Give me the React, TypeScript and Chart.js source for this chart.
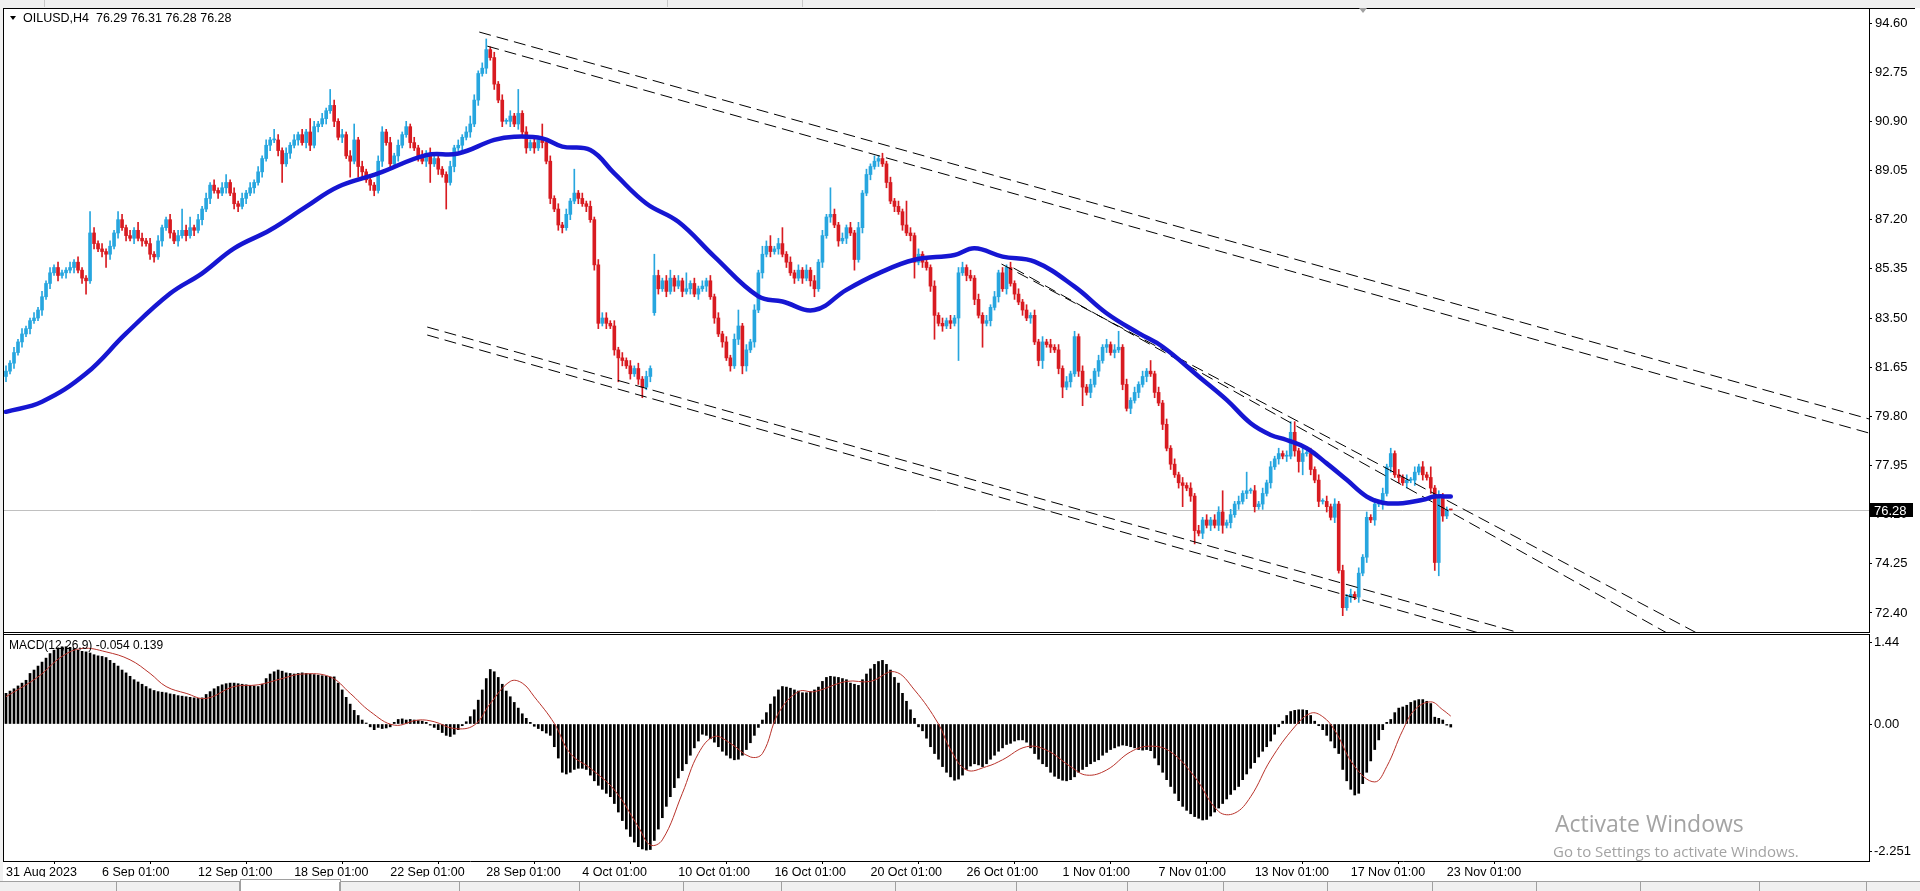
import React, { useEffect, useRef } from "react";
import { Chart, registerables } from "chart.js";

Chart.register(...registerables);

// ---------------- DATA ----------------
const SYMBOL_HEADER = "OILUSD,H4  76.29 76.31 76.28 76.28";
const MACD_HEADER = "MACD(12,26,9) -0.054 0.139";
const LAST_PRICE = 76.28;

const CLOSE: number[] = [
  81.5, 81.8, 82.2, 82.6, 82.9, 83.1, 83.4, 83.5, 83.8, 84.3,
  84.8, 85.2, 85.4, 85.1, 85.2, 85.3, 85.4, 85.6, 85.3, 85.0,
  84.9, 86.7, 86.3, 86.1, 86.0, 85.9, 86.2, 86.7, 87.2, 86.9,
  86.6, 86.5, 86.8, 86.5, 86.4, 86.3, 85.9, 85.8, 86.4, 86.9,
  87.2, 86.7, 86.4, 86.6, 86.8, 86.6, 86.9, 86.8, 87.2, 87.6,
  88.0, 88.5, 88.3, 88.2, 88.4, 88.6, 88.2, 87.8, 87.7, 88.0,
  88.2, 88.4, 88.6, 89.0, 89.5, 90.0, 90.2, 90.2, 89.8, 89.3,
  89.7, 90.0, 90.2, 90.4, 90.1, 90.5, 90.0, 90.7, 90.8, 91.0,
  91.3, 91.5, 90.9, 90.3, 90.4, 89.6, 89.4, 90.2, 89.2, 89.0,
  88.7, 88.5, 88.3, 89.4, 90.5, 90.1, 89.3, 89.6, 90.0, 90.4,
  90.7, 90.1, 89.9, 89.6, 89.4, 89.7, 89.3, 89.5, 89.1, 88.9,
  88.6, 89.2, 89.9, 90.0, 90.3, 90.5, 90.8, 91.7, 92.7, 92.9,
  93.6, 93.3, 92.3, 91.7, 90.9, 90.9, 91.1, 90.8, 91.2, 90.5,
  89.9, 90.1, 89.9, 90.2, 90.1, 89.4, 88.0, 87.6, 87.0, 86.9,
  87.4, 87.9, 88.2, 88.0, 87.8, 87.7, 87.2, 85.5, 83.3, 83.5,
  83.3, 83.2, 82.3, 82.0, 81.9, 81.7, 81.4, 81.6, 81.2, 80.9,
  81.3, 81.6, 85.1, 84.6, 84.9, 84.5, 85.0, 84.7, 84.9, 84.5,
  84.6, 84.8, 84.4, 84.6, 84.7, 84.9, 84.3, 83.5, 82.9, 82.6,
  82.0, 81.7, 82.7, 83.2, 81.7, 82.3, 82.6, 83.8, 85.2, 85.9,
  86.2, 86.0, 86.1, 86.3, 85.9, 85.6, 85.2, 85.0, 85.3, 85.0,
  85.3, 84.9, 84.6, 85.6, 86.6, 87.3, 87.4, 87.0, 86.4, 86.5,
  86.9, 86.7, 85.7, 86.9, 88.2, 88.9, 89.2, 89.4, 89.5, 89.3,
  88.6, 87.9, 87.7, 87.5, 87.0, 86.7, 86.6, 85.6, 85.9, 85.6,
  85.4, 84.7, 83.6, 83.3, 83.2, 83.4, 83.3, 83.5, 85.2, 85.4,
  85.1, 85.0, 84.2, 83.6, 83.3, 83.4, 83.9, 84.3, 85.2, 84.6,
  85.4, 84.8, 84.4, 84.1, 83.8, 83.5, 83.6, 82.6, 81.9, 82.6,
  82.5, 82.4, 82.3, 81.6, 80.9, 81.1, 81.4, 82.8, 81.5, 80.9,
  80.7, 81.0, 81.5, 81.9, 82.4, 82.5, 82.2, 82.3, 82.4, 81.0,
  80.1, 80.4, 80.7, 81.0, 81.3, 81.5, 81.4, 80.7, 80.3, 79.5,
  78.6, 78.0, 77.6, 77.3, 77.2, 77.1, 76.8, 75.5, 75.4, 75.9,
  75.7, 75.9, 75.7, 76.2, 75.7, 75.8, 76.1, 76.5, 76.6, 76.9,
  77.0, 77.0, 76.4, 76.5, 76.9, 77.3, 77.9, 78.2, 78.4, 78.3,
  78.3, 79.2, 78.5, 78.1, 78.4, 78.4, 77.8, 77.4, 76.6, 76.6,
  76.4, 76.0, 76.5, 74.0, 72.6, 73.0, 73.1, 73.0, 73.9, 74.5,
  76.0, 75.9, 76.5, 76.5, 76.9, 77.9, 78.4, 77.6, 77.5, 77.3,
  77.4, 77.4, 77.7, 77.9, 77.6, 77.5, 77.1, 74.3, 76.8, 76.05,
  76.29, 76.28,
];

// wick lengths above / below the body, in tenths of a dollar
const UP_WICK_TENTHS: number[] = [
  2,1,2,1,2,1,1,2,1,2, 1,2,1,2,1,1,2,1,2,1, 1,8,2,1,2,1,2,1,3,2, 1,2,1,3,2,1,2,1,2,1,
  1,2,1,2,8,2,4,1,2,1, 2,1,2,1,2,3,1,2,1,2, 1,2,1,2,1,2,1,4,2,1, 2,1,2,1,2,1,5,2,1,2,
  1,6,2,1,2,1,2,6,1,2, 1,2,1,2,2,1,2,1,2,1, 2,1,2,1,2,1,2,1,2,1, 1,2,1,2,1,2,3,2,1,2,
  4,1,2,1,2,1,2,1,9,1, 2,1,2,1,6,1,2,1,2,1, 2,1,9,1,2,1,2,1,2,2, 2,1,2,1,2,1,2,1,2,1,
  2,1,8,2,1,2,3,1,2,1, 6,1,2,1,2,1,2,1,2,1, 2,1,2,6,1,2,1,2,1,3, 2,4,1,2,6,1,2,1,2,1,
  2,1,2,1,2,1,10,2,1,2, 1,2,1,2,1,2,1,2,1,2, 1,2,1,2,1,9,2,1,2,1, 2,1,2,1,2,1,2,1,2,2,
  1,2,1,2,1,2,1,2,1,2, 1,2,1,2,1,2,1,2,1,2, 1,2,1,2,1,2,1,2,1,2, 1,2,1,2,1,2,1,2,6,1,
  2,1,2,1,2,1,4,1,2,1, 2,1,2,1,2,1,2,1,2,1, 2,1,2,2,8,1,2,1,2,1, 7,1,2,1,2,1,2,1,2,1,
  2,4,4,1,2,1,2,1,2,1, 2,1,2,1,2,1,2,1,2,1, 2,1,2,1,2,1,2,1,2,1, 2,1,2,1,2,1,4,1,2,1,
  1,0,
];
const DOWN_WICK_TENTHS: number[] = [
  2,1,2,1,2,1,2,1,1,2, 1,2,1,2,1,2,1,2,1,2, 5,1,2,1,2,5,2,1,2,1, 2,1,2,1,2,1,2,2,1,2,
  1,2,1,2,1,2,1,2,1,2, 1,2,1,2,1,2,1,2,2,1, 2,1,2,1,2,1,2,1,2,7, 1,2,1,2,1,2,2,1,2,1,
  2,1,2,1,2,1,6,1,4,2, 1,2,2,1,2,1,2,1,2,1, 1,2,1,2,1,2,7,1,2,1, 10,1,2,1,2,1,2,1,2,1,
  2,1,2,1,2,1,2,1,2,1, 2,1,2,1,2,1,2,1,2,2, 1,2,1,2,1,2,1,2,2,1, 2,1,2,9,2,1,2,1,2,4,
  1,2,1,2,1,2,1,2,1,2, 1,2,1,2,1,2,1,2,1,2, 1,2,1,2,3,2,1,2,1,2, 1,2,1,2,1,2,1,2,1,2,
  1,2,3,1,2,1,2,1,2,1, 2,1,4,1,2,1,2,1,2,1, 2,1,2,1,2,1,2,6,1,2, 1,2,9,1,2,1,2,1,16,1,
  2,1,2,1,9,1,2,1,2,1, 2,1,2,1,2,1,2,1,2,3, 1,2,1,2,4,1,2,1,2,7, 1,2,1,2,1,2,1,2,1,2,
  1,2,1,2,1,2,1,2,1,2, 1,2,1,2,8,1,2,5,1,2, 1,2,1,2,3,1,2,1,2,1, 2,1,2,1,2,1,2,1,2,1,
  2,1,2,4,5,1,2,1,2,1, 2,1,2,1,3,1,2,1,2,1, 2,1,2,1,2,1,2,1,2,1, 2,1,2,1,2,1,2,3,5,2,
  1,0,
];
// bars whose open is not the previous close (first bar, Monday gap)
const OPEN_OVERRIDE_INDEX = [0, 162];
const OPEN_OVERRIDE_VALUE = [81.3, 83.7];

// blue moving average
const MA_INDEX = [0, 9, 20, 30, 41, 49, 57, 66, 75, 83, 93, 105, 113, 122, 127, 134, 139, 146, 152, 160,
  168, 177, 188, 194, 202, 210, 218, 227, 237, 242, 249, 257, 267, 275, 283, 289, 298, 305, 311, 316,
  320, 325, 330, 335, 340, 344, 349, 354, 357, 361];
const MA_VALUE = [79.97, 80.35, 81.41, 82.92, 84.42, 85.18, 86.12, 86.81, 87.69, 88.44, 88.94, 89.63, 89.69, 90.2, 90.32, 90.26, 89.95, 89.82, 88.94, 87.81,
  87.12, 85.81, 84.31, 84.12, 83.8, 84.56, 85.18, 85.69, 85.87, 86.12, 85.81, 85.62, 84.68, 83.68, 82.93, 82.42, 81.3, 80.42, 79.54, 79.1,
  78.91, 78.6, 78.03, 77.41, 76.78, 76.55, 76.53, 76.66, 76.78, 76.78];

// dashed trend lines (bar index, price)
const TREND_START_INDEX = [118.25, 120.25, 105.25, 105.25, 248.75, 251.75];
const TREND_START_PRICE = [94.26, 93.73, 83.16, 82.86, 85.53, 85.38];
const TREND_END_INDEX = [466, 466, 466, 466, 466, 466];
const TREND_END_PRICE = [79.68, 79.15, 67.95, 67.47, 68.17, 67.36];

// MACD main (histogram) per bar
const MACD_HIST: number[] = [
  0.54, 0.58, 0.62, 0.67, 0.72, 0.77, 0.89, 0.95, 1.02, 1.09,
  1.16, 1.24, 1.30, 1.34, 1.36, 1.36, 1.35, 1.33, 1.30, 1.28,
  1.27, 1.25, 1.22, 1.20, 1.19, 1.17, 1.12, 1.07, 1.02, 0.95,
  0.90, 0.84, 0.78, 0.74, 0.70, 0.66, 0.62, 0.59, 0.57, 0.56,
  0.55, 0.53, 0.52, 0.50, 0.49, 0.48, 0.47, 0.46, 0.45, 0.46,
  0.52, 0.57, 0.62, 0.66, 0.69, 0.71, 0.72, 0.72, 0.71, 0.70,
  0.69, 0.68, 0.67, 0.66, 0.70, 0.80, 0.88, 0.92, 0.95, 0.93,
  0.90, 0.89, 0.88, 0.89, 0.90, 0.89, 0.88, 0.87, 0.86, 0.85,
  0.84, 0.83, 0.83, 0.72, 0.60, 0.47, 0.35, 0.24, 0.15, 0.07,
  0.01, -0.05, -0.10, -0.06, -0.08, -0.07, -0.05, 0.03, 0.08, 0.09,
  0.07, 0.08, 0.07, 0.06, 0.05, 0.03, -0.02, -0.06, -0.10, -0.15,
  -0.20, -0.22, -0.18, -0.10, -0.03, 0.04, 0.13, 0.25, 0.42, 0.60,
  0.80, 0.96, 0.92, 0.82, 0.70, 0.58, 0.48, 0.38, 0.28, 0.18,
  0.10, 0.03, -0.04, -0.08, -0.12, -0.16, -0.20, -0.40, -0.60, -0.85,
  -0.88, -0.85, -0.80, -0.78, -0.78, -0.80, -0.90, -1.00, -1.08, -1.15,
  -1.22, -1.28, -1.40, -1.55, -1.70, -1.85, -1.98, -2.08, -2.16, -2.20,
  -2.22, -2.21, -2.05, -1.85, -1.65, -1.45, -1.28, -1.12, -0.95, -0.82,
  -0.70, -0.55, -0.42, -0.30, -0.18, -0.20, -0.26, -0.32, -0.40, -0.48,
  -0.55, -0.60, -0.63, -0.62, -0.55, -0.45, -0.33, -0.20, -0.06, 0.07,
  0.20, 0.35, 0.48, 0.60, 0.66, 0.65, 0.63, 0.60, 0.58, 0.55,
  0.55, 0.57, 0.60, 0.65, 0.75, 0.82, 0.84, 0.83, 0.82, 0.80,
  0.78, 0.72, 0.70, 0.68, 0.78, 0.88, 0.97, 1.05, 1.10, 1.12,
  1.05, 0.95, 0.82, 0.72, 0.54, 0.40, 0.25, 0.10, -0.05, -0.12,
  -0.25, -0.40, -0.52, -0.62, -0.75, -0.85, -0.93, -0.99, -0.97, -0.90,
  -0.80, -0.74, -0.70, -0.72, -0.75, -0.70, -0.62, -0.55, -0.48, -0.42,
  -0.36, -0.34, -0.30, -0.28, -0.28, -0.32, -0.42, -0.52, -0.62, -0.70,
  -0.75, -0.85, -0.92, -0.96, -0.99, -1.00, -0.98, -0.93, -0.85, -0.80,
  -0.75, -0.70, -0.66, -0.63, -0.55, -0.50, -0.45, -0.42, -0.39, -0.37,
  -0.38, -0.40, -0.42, -0.45, -0.46, -0.45, -0.47, -0.60, -0.72, -0.85,
  -0.98, -1.10, -1.22, -1.35, -1.45, -1.52, -1.58, -1.63, -1.66, -1.69,
  -1.68, -1.62, -1.55, -1.48, -1.40, -1.32, -1.24, -1.16, -1.10, -0.98,
  -0.88, -0.78, -0.68, -0.58, -0.48, -0.40, -0.30, -0.18, -0.05, 0.05,
  0.15, 0.22, 0.24, 0.25, 0.25, 0.24, 0.15, 0.05, -0.03, -0.10,
  -0.20, -0.30, -0.42, -0.52, -0.80, -1.00, -1.15, -1.25, -1.22, -1.05,
  -0.85, -0.65, -0.45, -0.28, -0.10, 0.03, 0.08, 0.20, 0.28, 0.30,
  0.33, 0.38, 0.41, 0.43, 0.43, 0.40, 0.36, 0.12, 0.10, 0.07,
  -0.02, -0.054,
];

// MACD signal line
const SIGNAL_INDEX = [0, 8, 14, 19, 25, 31, 36, 40, 45, 50, 57, 63, 69, 74, 81, 86, 91, 97, 103, 107,
  112, 117, 121, 126, 129, 132, 137, 141, 146, 152, 158, 161, 164, 169, 173, 177, 181, 186, 189, 193,
  198, 202, 210, 216, 222, 227, 233, 236, 240, 245, 249, 255, 260, 266, 270, 275, 281, 286, 291, 297,
  303, 307, 311, 316, 322, 326, 329, 332, 337, 342, 345, 349, 352, 356, 359, 361];
const SIGNAL_VALUE = [0.48, 0.83, 1.19, 1.33, 1.27, 1.13, 0.89, 0.66, 0.54, 0.45, 0.66, 0.69, 0.8, 0.88, 0.83, 0.54, 0.22, -0.02, 0.07, 0.04,
  -0.08, -0.02, 0.36, 0.75, 0.72, 0.48, 0.01, -0.52, -0.78, -1.16, -1.81, -2.13, -2.04, -1.22, -0.52, -0.22, -0.34, -0.58, -0.52, 0.19,
  0.57, 0.57, 0.75, 0.75, 0.92, 0.6, 0.0, -0.45, -0.81, -0.75, -0.63, -0.4, -0.46, -0.75, -0.9, -0.81, -0.49, -0.39, -0.49, -0.93,
  -1.54, -1.57, -1.28, -0.63, -0.05, 0.19, 0.13, -0.11, -0.75, -1.02, -0.75, -0.11, 0.25, 0.39, 0.25, 0.139];

const PRICE_TICKS = [72.4, 74.25, 76.1, 77.95, 79.8, 81.65, 83.5, 85.35, 87.2, 89.05, 90.9, 92.75, 94.6];
const MACD_TICKS = [-2.251, 0, 1.44];
const MACD_TICK_LABELS = ["-2.251", "0.00", "1.44"];
const TIME_TICK_INDEX = [0, 24, 48, 72, 96, 120, 144, 168, 192, 216, 240, 264, 288, 312, 336, 360];
const TIME_LABELS = ["31 Aug 2023", "6 Sep 01:00", "12 Sep 01:00", "18 Sep 01:00", "22 Sep 01:00", "28 Sep 01:00",
  "4 Oct 01:00", "10 Oct 01:00", "16 Oct 01:00", "20 Oct 01:00", "26 Oct 01:00", "1 Nov 01:00", "7 Nov 01:00",
  "13 Nov 01:00", "17 Nov 01:00", "23 Nov 01:00"];

// ---------------- STYLE / LAYOUT ----------------
const X_MIN = -0.5;
const X_MAX = 465.5;
const PRICE_MIN = 71.685;
const PRICE_MAX = 95.127;
const MACD_MIN = -2.412;
const MACD_MAX = 1.567;
const BULL = "#27a6df";
const BEAR = "#d81b21";
const FONT = '"Liberation Sans", Arial, sans-serif';
const TAB_SEPARATORS = [116, 239, 339, 459, 579, 683, 781, 895, 1016, 1127, 1223, 1327, 1432, 1536, 1640, 1759, 1866];

Chart.defaults.font.family = FONT;
Chart.defaults.font.size = 12;
Chart.defaults.color = "#000";

const fixVertical = (s: any) => {
  s.width = 51;
  s.paddingTop = 0;
  s.paddingBottom = 0;
};
const fixHorizontal = (s: any) => {
  s.height = 16;
  s.paddingLeft = 0;
  s.paddingRight = 0;
};

export default function App() {
  const mainRef = useRef<HTMLCanvasElement | null>(null);
  const macdRef = useRef<HTMLCanvasElement | null>(null);

  useEffect(() => {
    const n = CLOSE.length;
    const open = CLOSE.map((c, i) => {
      const k = OPEN_OVERRIDE_INDEX.indexOf(i);
      return k >= 0 ? OPEN_OVERRIDE_VALUE[k] : CLOSE[i - 1];
    });
    const high = CLOSE.map((c, i) => Math.max(open[i], c) + (UP_WICK_TENTHS[i] || 0) / 10);
    const low = CLOSE.map((c, i) => Math.min(open[i], c) - (DOWN_WICK_TENTHS[i] || 0) / 10);
    const colors = CLOSE.map((c, i) => (c >= open[i] ? BULL : BEAR));

    const trendSets = TREND_START_INDEX.map((s, k) => ({
      type: "line" as const,
      data: [
        { x: s, y: TREND_START_PRICE[k] },
        { x: TREND_END_INDEX[k], y: TREND_END_PRICE[k] },
      ],
      borderColor: "#000",
      borderWidth: 1,
      borderDash: [12, 6],
      pointRadius: 0,
      order: 1,
    }));

    const mainPlugin = {
      id: "mainDecor",
      beforeDatasetsDraw(chart: any) {
        const { ctx, chartArea: a, scales } = chart;
        const py = Math.round(scales.y.getPixelForValue(LAST_PRICE)) + 0.5;
        ctx.save();
        ctx.strokeStyle = "#c0c0c0";
        ctx.lineWidth = 1;
        ctx.beginPath();
        ctx.moveTo(a.left, py);
        ctx.lineTo(a.right, py);
        ctx.stroke();
        ctx.restore();
      },
      afterDraw(chart: any) {
        const { ctx, chartArea: a, scales } = chart;
        ctx.save();
        ctx.fillStyle = "#000";
        ctx.beginPath();
        ctx.moveTo(10, 8);
        ctx.lineTo(16, 8);
        ctx.lineTo(13, 12);
        ctx.closePath();
        ctx.fill();
        ctx.font = `12.5px ${FONT}`;
        ctx.textBaseline = "alphabetic";
        ctx.textAlign = "left";
        ctx.fillText(SYMBOL_HEADER, 23, 14);
        const py = Math.round(scales.y.getPixelForValue(LAST_PRICE));
        ctx.fillStyle = "#000";
        ctx.fillRect(a.right + 1, py - 7, 43, 14);
        ctx.fillStyle = "#fff";
        ctx.font = `13px ${FONT}`;
        ctx.textBaseline = "middle";
        ctx.fillText(LAST_PRICE.toFixed(2), a.right + 5, py + 1);
        ctx.restore();
      },
    };

    const mainChart = new Chart(mainRef.current as HTMLCanvasElement, {
      type: "bar",
      data: {
        datasets: [
          {
            type: "line",
            data: MA_INDEX.map((x, k) => ({ x, y: MA_VALUE[k] })),
            borderColor: "#1616d2",
            borderWidth: 4.5,
            pointRadius: 0,
            tension: 0.4,
            borderCapStyle: "round",
            borderJoinStyle: "round",
            order: 0,
          } as any,
          ...(trendSets as any[]),
          {
            type: "bar",
            data: CLOSE.map((c, i) => ({ x: i, y: [open[i], c] })),
            backgroundColor: colors,
            barThickness: 3,
            grouped: false,
            minBarLength: 1,
            borderWidth: 0,
            order: 2,
          } as any,
          {
            type: "bar",
            data: CLOSE.map((c, i) => ({ x: i, y: [low[i], high[i]] })),
            backgroundColor: colors,
            barThickness: 1,
            grouped: false,
            borderWidth: 0,
            order: 3,
          } as any,
        ],
      },
      options: {
        responsive: false,
        animation: false,
        devicePixelRatio: 1,
        events: [],
        layout: { padding: { left: 4, top: 1, bottom: 2, right: 0 } },
        plugins: { legend: { display: false }, tooltip: { enabled: false } },
        scales: {
          x: { type: "linear", min: X_MIN, max: X_MAX, display: false, offset: false },
          y: {
            position: "right",
            min: PRICE_MIN,
            max: PRICE_MAX,
            afterBuildTicks: (s: any) => {
              s.ticks = PRICE_TICKS.map((v) => ({ value: v }));
            },
            afterFit: fixVertical,
            grid: { drawOnChartArea: false, drawTicks: true, tickLength: 3, color: "#000" },
            border: { color: "#000", width: 1 },
            ticks: {
              padding: 3,
              color: "#000",
              font: { family: FONT, size: 13 },
              callback: (v: any) => Number(v).toFixed(2),
            },
          },
        },
      } as any,
      plugins: [mainPlugin],
    });

    const macdPlugin = {
      id: "macdDecor",
      afterDraw(chart: any) {
        const { ctx } = chart;
        ctx.save();
        ctx.fillStyle = "#000";
        ctx.font = `12px ${FONT}`;
        ctx.textBaseline = "alphabetic";
        ctx.textAlign = "left";
        ctx.fillText(MACD_HEADER, 9, 15);
        ctx.restore();
      },
    };

    const macdChart = new Chart(macdRef.current as HTMLCanvasElement, {
      type: "bar",
      data: {
        datasets: [
          {
            type: "line",
            data: SIGNAL_INDEX.map((x, k) => ({ x, y: SIGNAL_VALUE[k] })),
            borderColor: "#b8322a",
            borderWidth: 1,
            pointRadius: 0,
            tension: 0.4,
            order: 0,
          } as any,
          {
            type: "bar",
            data: MACD_HIST.slice(0, n).map((v, i) => ({ x: i, y: v })),
            backgroundColor: "#000",
            barThickness: 2,
            grouped: false,
            minBarLength: 1,
            borderWidth: 0,
            order: 1,
          } as any,
        ],
      },
      options: {
        responsive: false,
        animation: false,
        devicePixelRatio: 1,
        events: [],
        layout: { padding: { left: 4, top: 1, bottom: 0, right: 0 } },
        plugins: { legend: { display: false }, tooltip: { enabled: false } },
        scales: {
          x: {
            type: "linear",
            min: X_MIN,
            max: X_MAX,
            offset: false,
            position: "bottom",
            afterBuildTicks: (s: any) => {
              s.ticks = TIME_TICK_INDEX.map((v) => ({ value: v }));
            },
            afterFit: fixHorizontal,
            grid: { drawOnChartArea: false, drawTicks: true, tickLength: 3, color: "#000" },
            border: { color: "#000", width: 1 },
            ticks: {
              autoSkip: false,
              maxRotation: 0,
              minRotation: 0,
              align: "start",
              padding: 1,
              color: "#000",
              font: { family: FONT, size: 12.5 },
              callback: (_v: any, idx: number) => TIME_LABELS[idx],
            },
          },
          y: {
            position: "right",
            min: MACD_MIN,
            max: MACD_MAX,
            afterBuildTicks: (s: any) => {
              s.ticks = MACD_TICKS.map((v) => ({ value: v }));
            },
            afterFit: fixVertical,
            grid: { drawOnChartArea: false, drawTicks: true, tickLength: 3, color: "#000" },
            border: { color: "#000", width: 1 },
            ticks: {
              padding: 2,
              color: "#000",
              font: { family: FONT, size: 13 },
              callback: (_v: any, idx: number) => MACD_TICK_LABELS[idx],
            },
          },
        },
      } as any,
      plugins: [macdPlugin],
    });

    return () => {
      mainChart.destroy();
      macdChart.destroy();
    };
  }, []);

  const line = (left: number, top: number, width: number, height: number, color = "#000") => (
    <div style={{ position: "absolute", left, top, width, height, background: color }} />
  );

  return (
    <div
      style={{
        position: "fixed",
        left: 0,
        top: 0,
        width: 1920,
        height: 891,
        background: "#fff",
        overflow: "hidden",
        fontFamily: FONT,
      }}
    >
      <div style={{ position: "absolute", left: 0, top: 0, width: 1920, height: 8, background: "#f0f0f0" }} />
      {line(44, 0, 1, 7, "#c8c8c8")}
      {line(667, 0, 1, 7, "#c8c8c8")}
      {line(802, 0, 1, 7, "#c8c8c8")}
      <div style={{ position: "absolute", left: 0, top: 0, width: 3, height: 891, background: "#f0f0f0" }} />
      <canvas
        ref={mainRef}
        width={1920}
        height={626}
        style={{ position: "absolute", left: 0, top: 8, width: 1920, height: 626 }}
      />
      <canvas
        ref={macdRef}
        width={1920}
        height={243}
        style={{ position: "absolute", left: 0, top: 634, width: 1920, height: 243 }}
      />
      {line(3, 8, 1912, 1, "#000")}
      {line(3, 8, 1, 854, "#000")}
      {line(3, 632, 1867, 1, "#000")}
      {line(3, 634, 1867, 1, "#000")}
      <div
        style={{
          position: "absolute",
          left: 1359,
          top: 8,
          width: 0,
          height: 0,
          borderLeft: "4px solid transparent",
          borderRight: "4px solid transparent",
          borderTop: "5px solid #a0a0a0",
        }}
      />
      <div
        style={{
          position: "absolute",
          left: 1555,
          top: 808,
          fontFamily: '"Open Sans", "Noto Sans", sans-serif',
          fontSize: 23,
          lineHeight: "30px",
          color: "#a3a3a3",
          whiteSpace: "nowrap",
        }}
      >
        Activate Windows
      </div>
      <div
        style={{
          position: "absolute",
          left: 1553,
          top: 841,
          fontFamily: '"Open Sans", "Noto Sans", sans-serif',
          fontSize: 15,
          lineHeight: "20px",
          color: "#a3a3a3",
          whiteSpace: "nowrap",
        }}
      >
        Go to Settings to activate Windows.
      </div>
      <div
        style={{
          position: "absolute",
          left: 0,
          top: 881,
          width: 1920,
          height: 10,
          background: "#f0f0f0",
          borderTop: "1px solid #a0a0a0",
        }}
      />
      <div style={{ position: "absolute", left: 240, top: 879, width: 99, height: 12, background: "#fff", borderLeft: "1px solid #a0a0a0", borderRight: "1px solid #a0a0a0", borderTop: "1px solid #a0a0a0" }} />
      {TAB_SEPARATORS.map((x) => (
        <div key={x} style={{ position: "absolute", left: x, top: 882, width: 1, height: 9, background: "#a0a0a0" }} />
      ))}
    </div>
  );
}
